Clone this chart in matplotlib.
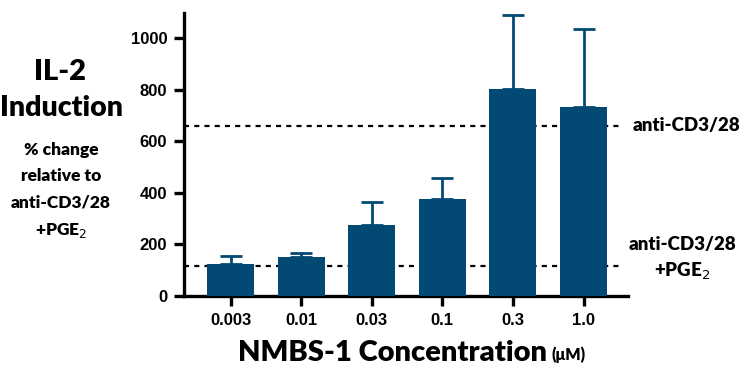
import matplotlib.pyplot as plt
import numpy as np

# data
conc_labels = ["0.003", "0.01", "0.03", "0.1", "0.3", "1.0"]
il2_mean = [124, 152, 274, 377, 801, 731]
il2_err = [31, 13, 90, 80, 288, 303]
ref_cd3 = 659          # anti-CD3/28
ref_cd3_pge2 = 116     # anti-CD3/28 + PGE2
y_ticks = [0, 200, 400, 600, 800, 1000]

BAR = "#024a73"
TXT_FONT = ["Lato", "DejaVu Sans"]
TXT_W = "heavy"
TICK_FONT = ["Liberation Sans", "DejaVu Sans"]

fig = plt.figure(figsize=(7.45, 3.69), dpi=100)
ax = fig.add_axes([184 / 745, 73 / 369, 444 / 745, 283 / 369])

x = np.arange(len(conc_labels))
ax.bar(x, il2_mean, width=0.665, color=BAR, zorder=3)
ax.errorbar(x, il2_mean, yerr=[np.zeros(len(x)), il2_err], fmt="none",
            ecolor=BAR, elinewidth=2, capsize=8, capthick=2, zorder=2)

for ref in (ref_cd3, ref_cd3_pge2):
    ax.plot([-0.66, 5.56], [ref, ref], color="black", lw=1.6,
            linestyle=(0, (2.3, 2.3)), zorder=1, clip_on=False)

ax.set_xlim(-0.66, 5.63)
ax.set_ylim(0, 1097)
ax.set_yticks(y_ticks)
ax.set_xticks(x)
ax.set_xticklabels(conc_labels)
for lab in ax.get_xticklabels() + ax.get_yticklabels():
    lab.set_family(TICK_FONT)
    lab.set_fontweight("bold")
    lab.set_fontsize(12)

for side in ("top", "right"):
    ax.spines[side].set_visible(False)
for side in ("left", "bottom"):
    ax.spines[side].set_linewidth(2.4)
ax.tick_params(direction="out", length=7, width=2.4, pad=5)

# x label with the smaller unit
fig.text(392 / 745, 1 - 353 / 369, "NMBS-1 Concentration", family=TXT_FONT,
         fontweight=TXT_W, fontsize=21, ha="center", va="center")
fig.text(551 / 745, 1 - 355 / 369, "(μM)", family=TXT_FONT,
         fontweight=TXT_W, fontsize=11.5, ha="left", va="center")

# right side reference labels
ax.text(5.69, ref_cd3, "anti-CD3/28", family=TXT_FONT, fontweight=TXT_W,
        fontsize=13.5, ha="left", va="center", clip_on=False)
ax.text(6.4, 231, "anti-CD3/28\n+PGE$_2$", family=TXT_FONT, fontweight=TXT_W,
        fontsize=13.5, ha="center", va="top", multialignment="center",
        linespacing=1.45, clip_on=False)

# left title block
fig.text(60 / 745, 1 - 72 / 369, "IL-2", family=TXT_FONT, fontweight=TXT_W,
         fontsize=21, ha="center", va="center")
fig.text(62 / 745, 1 - 108 / 369, "Induction", family=TXT_FONT, fontweight=TXT_W,
         fontsize=20.5, ha="center", va="center")
fig.text(61 / 745, 1 - 142 / 369,
         "% change\nrelative to\nanti-CD3/28\n+PGE$_2$", family=TXT_FONT,
         fontweight=TXT_W, fontsize=12.5, ha="center", va="top",
         multialignment="center", linespacing=1.78)

fig.savefig("out.png", dpi=100)
